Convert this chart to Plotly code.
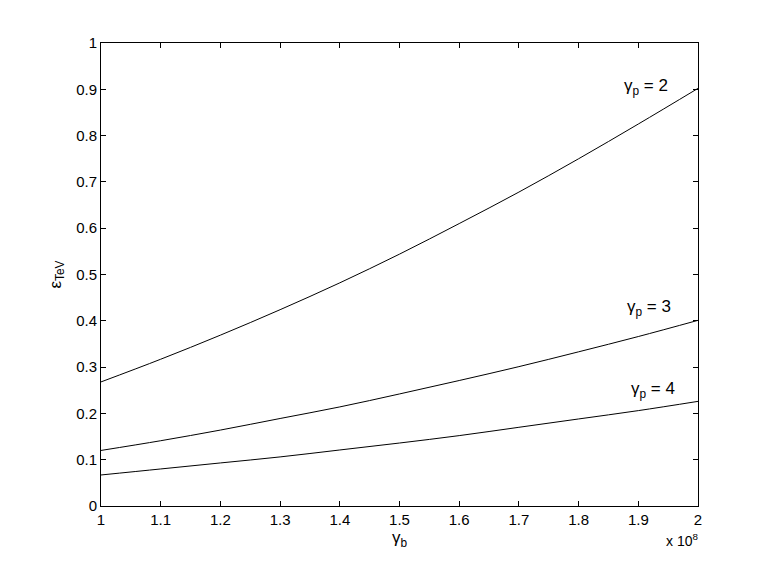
import plotly.graph_objects as go

# gamma_b in units of 1e8
gamma_b = [1.0, 1.1, 1.2, 1.3, 1.4, 1.5, 1.6, 1.7, 1.8, 1.9, 2.0]
eps_gp2 = [0.268, 0.317, 0.369, 0.424, 0.482, 0.544, 0.610, 0.678, 0.750, 0.825, 0.902]
eps_gp3 = [0.120, 0.141, 0.164, 0.189, 0.214, 0.242, 0.271, 0.301, 0.333, 0.366, 0.401]
eps_gp4 = [0.067, 0.080, 0.093, 0.106, 0.121, 0.136, 0.152, 0.170, 0.188, 0.206, 0.226]

x_ticks = [1.0, 1.1, 1.2, 1.3, 1.4, 1.5, 1.6, 1.7, 1.8, 1.9, 2.0]
x_ticklabels = ["1", "1.1", "1.2", "1.3", "1.4", "1.5", "1.6", "1.7", "1.8", "1.9", "2"]
y_ticks = [0, 0.1, 0.2, 0.3, 0.4, 0.5, 0.6, 0.7, 0.8, 0.9, 1]
y_ticklabels = ["0", "0.1", "0.2", "0.3", "0.4", "0.5", "0.6", "0.7", "0.8", "0.9", "1"]

labels = ["γ<sub>p</sub> = 2", "γ<sub>p</sub> = 3", "γ<sub>p</sub> = 4"]
label_x = [1.913, 1.918, 1.925]
label_y = [0.905, 0.428, 0.250]

fig = go.Figure()
for ys in (eps_gp2, eps_gp3, eps_gp4):
    fig.add_trace(
        go.Scatter(
            x=gamma_b, y=ys, mode="lines", line=dict(color="black", width=1, shape="spline"),
            showlegend=False,
        )
    )

for txt, lx, ly in zip(labels, label_x, label_y):
    fig.add_annotation(
        x=lx, y=ly, text=txt, showarrow=False, font=dict(size=17, color="black"),
    )

fig.add_annotation(
    x=1.0, y=0, xref="paper", yref="paper", xanchor="right", yanchor="top",
    xshift=2, yshift=-23, text="x 10<sup>8</sup>", showarrow=False,
    font=dict(size=14, color="black"),
)

axis_common = dict(
    showline=True, linecolor="black", linewidth=1, mirror="ticks",
    ticks="inside", ticklen=5, tickcolor="black", showgrid=False, zeroline=False,
    tickfont=dict(size=15, color="black"),
)

fig.update_layout(
    width=768, height=567,
    margin=dict(l=93, r=78, t=35, b=69),
    plot_bgcolor="white", paper_bgcolor="white",
    font=dict(family="Liberation Sans, Arial, sans-serif", color="black"),
    xaxis=dict(
        range=[1, 2], tickvals=x_ticks, ticktext=x_ticklabels,
        title=dict(text="γ<sub>b</sub>", font=dict(size=17), standoff=0),
        **axis_common,
    ),
    yaxis=dict(
        range=[0, 1], tickvals=y_ticks, ticktext=y_ticklabels,
        title=dict(text="ε<sub>TeV</sub>", font=dict(size=17), standoff=10),
        **axis_common,
    ),
)

fig.write_html("out.html")
